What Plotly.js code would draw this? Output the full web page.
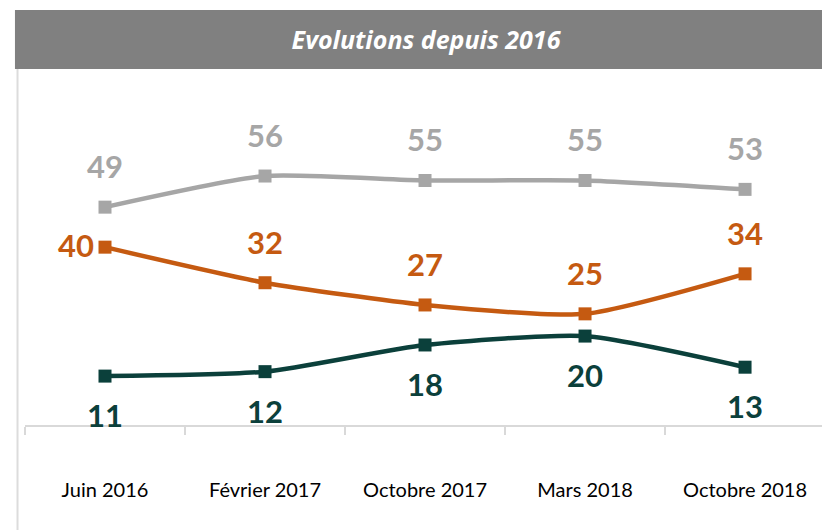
<!DOCTYPE html>
<html>
<head>
<meta charset="utf-8">
<script src="https://cdn.plot.ly/plotly-3.0.1.min.js"></script>
<style>
  html, body { margin: 0; padding: 0; background: #fff; }
  #chart { width: 822px; height: 530px; }
</style>
</head>
<body>
<div id="chart"></div>
<script>
const periodes = ['Juin 2016', 'Février 2017', 'Octobre 2017', 'Mars 2018', 'Octobre 2018'];
const serieGris = [49, 56, 55, 55, 53];
const serieOrange = [40, 32, 27, 25, 34];
const serieVert = [11, 12, 18, 20, 13];

const gris = '#a6a6a6';
const orange = '#c55a11';
const vert = '#0b403b';

function ligne(y, couleur) {
  return {
    x: periodes,
    y: y,
    mode: 'lines+markers',
    type: 'scatter',
    line: { color: couleur, width: 4.5, shape: 'spline', smoothing: 0.6 },
    marker: { symbol: 'square', size: 13, color: couleur },
    cliponaxis: false,
    hoverinfo: 'skip'
  };
}

const data = [ligne(serieGris, gris), ligne(serieOrange, orange), ligne(serieVert, vert)];

// étiquettes de valeurs
const etiquettes = [];
function ajouter(y, couleur, decalage) {
  y.forEach(function (v, i) {
    const a = {
      x: periodes[i], y: v, text: String(v), showarrow: false,
      xanchor: 'center', yanchor: 'middle', yshift: decalage,
      font: { family: 'Lato', size: 31, color: couleur, weight: 'bold' }
    };
    etiquettes.push(a);
  });
}
ajouter(serieGris, gris, 41);
ajouter(serieOrange, orange, 41);
ajouter(serieVert, vert, -39);
// premier point orange : étiquette à gauche
etiquettes[5].xanchor = 'right';
etiquettes[5].xshift = -9;
etiquettes[5].yshift = 2;

const layout = {
  width: 822,
  height: 530,
  margin: { l: 25, r: 0, t: 80, b: 105 },
  paper_bgcolor: '#ffffff',
  plot_bgcolor: '#ffffff',
  showlegend: false,
  title: {
    text: '<b><i>Evolutions depuis 2016</i></b>',
    font: { family: 'Open Sans', size: 25, color: '#ffffff' },
    x: 426 / 822, xanchor: 'center',
    y: 1 - 40 / 530, yanchor: 'middle'
  },
  xaxis: {
    type: 'category',
    range: [-0.5, 4.481],
    showline: true, linecolor: '#d9d9d9', linewidth: 1.5,
    ticks: 'outside', tickson: 'boundaries', ticklen: 8, tickcolor: '#d9d9d9', tickwidth: 1.5,
    showgrid: false, zeroline: false,
    ticklabelstandoff: 46,
    tickfont: { family: 'Lato', size: 20, color: '#000000' },
    fixedrange: true
  },
  yaxis: {
    range: [0, 77.6],
    visible: false,
    showgrid: false,
    zeroline: false,
    fixedrange: true
  },
  shapes: [
    { type: 'rect', xref: 'paper', yref: 'paper', x0: -0.0126, x1: 1.0, y0: 1.0319, y1: 1.2029,
      fillcolor: '#808080', line: { width: 0 }, layer: 'below' },
    { type: 'line', xref: 'paper', yref: 'paper', x0: -0.0094, x1: -0.0094, y0: 1.0319, y1: -0.31,
      line: { color: '#dcdcdc', width: 2 } }
  ],
  annotations: etiquettes
};

Plotly.newPlot('chart', data, layout, { displayModeBar: false, staticPlot: true });
</script>
</body>
</html>
